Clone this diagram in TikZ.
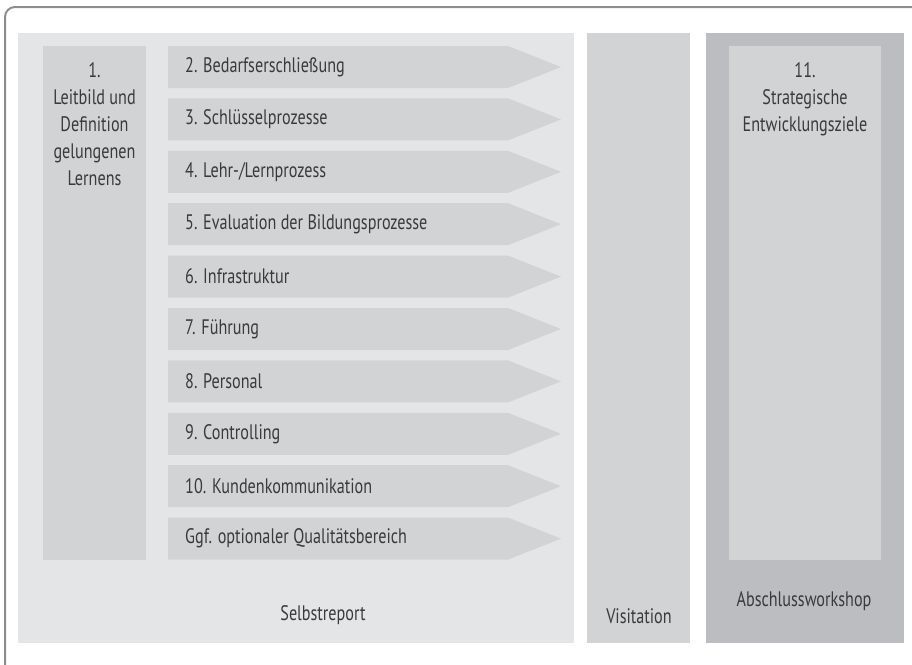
\documentclass[tikz,border=0pt]{standalone}
\usepackage{fontspec}
\setmainfont[FakeStretch=0.77]{PT Sans}
\definecolor{bgA}{HTML}{E4E5E6}
\definecolor{boxA}{HTML}{D2D3D5}
\definecolor{boxB}{HTML}{BCBDC0}
\definecolor{txt}{HTML}{3A3A3A}
\definecolor{frame}{HTML}{8E8E8E}
\tikzset{
  lbl/.style={text=txt, font=\fontsize{21}{27}\selectfont, inner sep=0pt},
  arrowbox/.style={fill=boxA},
}
\begin{document}
\begin{tikzpicture}[x=1pt,y=-1pt]
\useasboundingbox (0,0) rectangle (912,664);
\begin{scope}
\clip (0,0) rectangle (912,664);
\draw[frame, line width=2pt, rounded corners=10pt] (5,7) rectangle (940,700);
\end{scope}
\fill[bgA] (18,33) rectangle (574,643);
\fill[boxA] (43,46) rectangle (146,560);
\node[lbl, align=center, anchor=north] (n1) at (94.5,62) {1.\\Leitbild und\\Definition\\gelungenen\\Lernens};
\foreach \t [count=\i from 0] in {2. Bedarfserschließung, 3. Schlüsselprozesse, 4. Lehr-/Lernprozess, 5. Evaluation der Bildungsprozesse, 6. Infrastruktur, 7. Führung, 8. Personal, 9. Controlling, 10. Kundenkommunikation, Ggf. optionaler Qualitätsbereich}{
  \pgfmathsetmacro{\yt}{46+52.4*\i}
  \fill[arrowbox] (168,\yt) -- (508,\yt) -- (561,\yt+21) -- (508,\yt+42) -- (168,\yt+42) -- cycle;
  \node[lbl, anchor=west] (a\i) at (185,\yt+21) {\t};
}
\node[lbl] (sr) at (323,615) {Selbstreport};
\fill[boxA] (587,33) rectangle (690,643);
\node[lbl] (vis) at (639,616) {Visitation};
\fill[boxB] (706,33) rectangle (904,643);
\fill[boxA] (729,46) rectangle (881,560);
\node[lbl, align=center, anchor=north] (n11) at (805,62) {11.\\Strategische\\Entwicklungsziele};
\node[lbl] (aw) at (804,601) {Abschlussworkshop};
\end{tikzpicture}
\end{document}
